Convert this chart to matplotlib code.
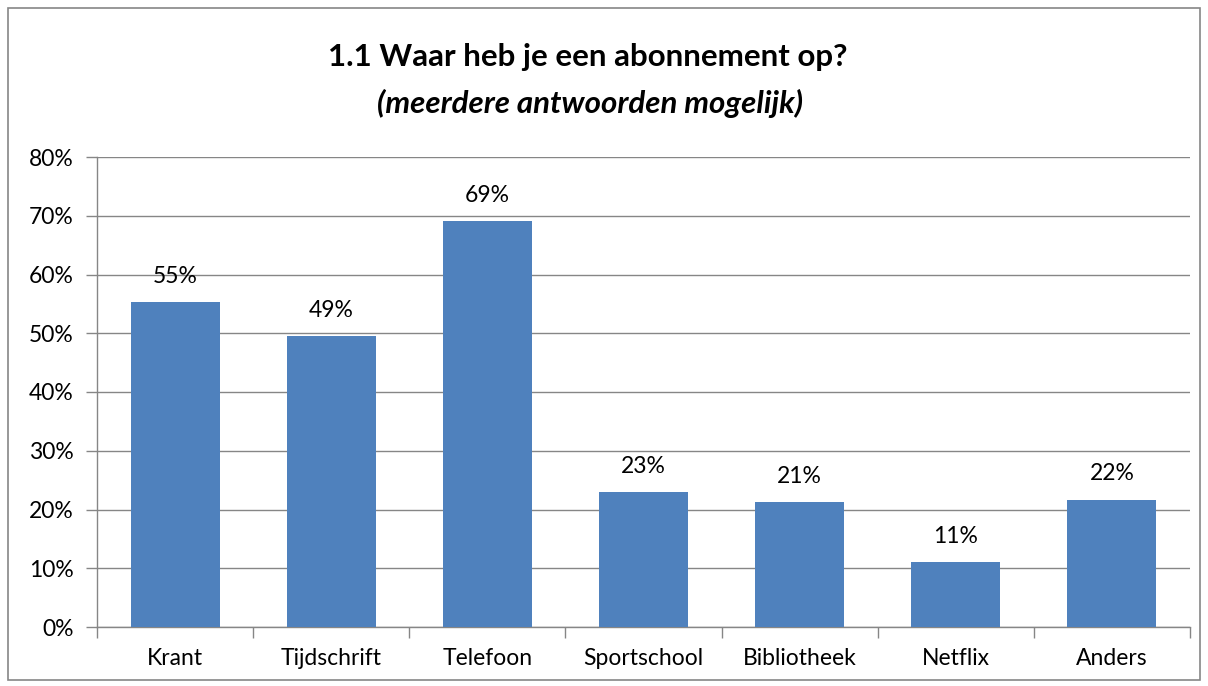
import matplotlib
matplotlib.use("Agg")
import matplotlib.pyplot as plt
from matplotlib.patches import Rectangle
from matplotlib.ticker import FixedLocator

categories = ["Krant", "Tijdschrift", "Telefoon", "Sportschool", "Bibliotheek", "Netflix", "Anders"]
values = [55.3, 49.5, 69.1, 23.0, 21.2, 11.0, 21.7]
labels = ["55%", "49%", "69%", "23%", "21%", "11%", "22%"]
yticks = [0, 10, 20, 30, 40, 50, 60, 70, 80]
ytick_labels = ["0%", "10%", "20%", "30%", "40%", "50%", "60%", "70%", "80%"]

plt.rcParams['font.family'] = ['Lato', 'DejaVu Sans']

W, H = 1208, 686
fig = plt.figure(figsize=(W / 100, H / 100), dpi=100)
fig.patch.set_facecolor("white")

# outer chart border
fig.add_artist(Rectangle((8 / W, 1 - 680 / H), (1200 - 8) / W, (680 - 8) / H,
                         transform=fig.transFigure, fill=False,
                         edgecolor="#868686", linewidth=1.2))

left, right, top, bottom = 97, 1190, 157, 627
ax = fig.add_axes([left / W, 1 - bottom / H, (right - left) / W, (bottom - top) / H])

fs = 16.5
x = list(range(len(categories)))
ax.bar(x, values, width=0.57, color="#4F81BD", zorder=3)
for xi, v, lab in zip(x, values, labels):
    ax.annotate(lab, (xi, v), xytext=(0, 11), textcoords="offset points",
                ha="center", va="bottom", fontsize=fs, color="black")

ax.set_xlim(-0.5, len(categories) - 0.5)
ax.set_ylim(0, 80)
ax.set_yticks(yticks)
ax.set_yticklabels(ytick_labels, fontsize=fs)
ax.yaxis.grid(True, color="#868686", linewidth=1.0, zorder=0)
ax.set_xticks(x)
ax.set_xticklabels(categories, fontsize=fs)
ax.tick_params(axis="x", length=0, pad=15)
ax.tick_params(axis="y", length=8, color="#868686", pad=9, width=1.0)
ax.xaxis.set_minor_locator(FixedLocator([i - 0.5 for i in range(len(categories) + 1)]))
ax.tick_params(axis="x", which="minor", length=8, color="#868686", width=1.0)

for s in ["top", "right"]:
    ax.spines[s].set_visible(False)
for s in ["left", "bottom"]:
    ax.spines[s].set_color("#868686")
    ax.spines[s].set_linewidth(1.0)

fig.text(588 / W, 1 - 57 / H, "1.1 Waar heb je een abonnement op?", ha="center", va="center",
         fontsize=22.5, fontweight="bold")
fig.text(590 / W, 1 - 103 / H, "(meerdere antwoorden mogelijk)", ha="center", va="center",
         fontsize=22.5, fontweight="bold", fontstyle="italic")

fig.savefig("out.png", dpi=100, facecolor="white")
